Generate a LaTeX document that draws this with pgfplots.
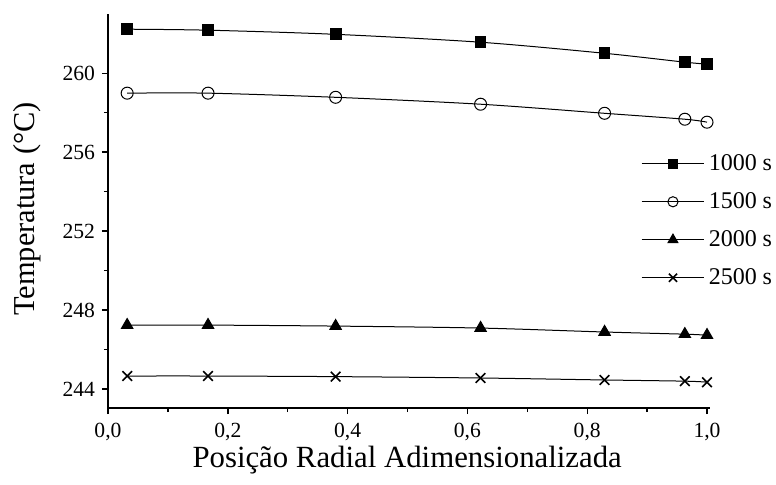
\documentclass[border=0pt]{standalone}
\usepackage{pgfplots}
\pgfplotsset{compat=1.18}
\usepackage{fontspec}
\setmainfont{Liberation Serif}
\newcommand\tl{\fontsize{10.8}{12}\selectfont}
\begin{document}
\begin{tikzpicture}
\useasboundingbox (-54pt,-38pt) rectangle (334pt,204pt);
\begin{axis}[
  at={(0,0)}, anchor=south west,
  scale only axis, width=301pt, height=197pt,
  xmin=0, xmax=1.005, ymin=243.04, ymax=263.0,
  axis lines*=left,
  axis line style={line width=0.9pt},
  tick align=outside,
  tick style={black, line width=0.7pt},
  major tick length=3pt, minor tick length=2pt,
  xtick={0,0.2,0.4,0.6,0.8,1.0},
  xticklabels={{\tl 0,0},{\tl 0,2},{\tl 0,4},{\tl 0,6},{\tl 0,8},{\tl 1,0}},
  minor x tick num=1,
  ytick={244,248,252,256,260},
  yticklabels={{\tl 244},{\tl 248},{\tl 252},{\tl 256},{\tl 260}},
  minor y tick num=1,
  xticklabel style={yshift=-1pt},
  xlabel={Posição Radial Adimensionalizada},
  ylabel={Temperatura (°C)},
  every axis x label/.style={at={(axis description cs:0.497,-0.132)}, anchor=center, font=\fontsize{15.4}{18}\selectfont},
  every axis y label/.style={at={(axis description cs:-0.1346,0.505)}, anchor=center, rotate=90, font=\fontsize{15.2}{18}\selectfont},
  legend style={at={(axis description cs:0.885,0.655)}, anchor=north west, draw=none, fill=none,
    font=\fontsize{12}{14}\selectfont, row sep=5.5pt, inner sep=0pt},
  legend cell align=left,
  legend image code/.code={\draw[mark repeat=2,mark phase=2,/tikz/every mark/.append style={scale=0.85}] plot coordinates {(0cm,0cm)(0.55cm,0cm)(1.1cm,0cm)};},
  every axis plot/.append style={black, line width=0.5pt, smooth},
]
\addplot[mark=square*, mark size=2.7pt] coordinates {
(0.032,262.23) (0.167,262.18) (0.380,261.97) (0.622,261.57) (0.829,261.01) (0.963,260.56) (1.0,260.46)};
\addlegendentry{1000 s}
\addplot[mark=o, mark size=3.0pt, mark options={fill=white}] coordinates {
(0.032,258.99) (0.167,258.99) (0.380,258.78) (0.622,258.43) (0.829,257.97) (0.963,257.67) (1.0,257.52)};
\addlegendentry{1500 s}
\addplot[mark=triangle*, mark size=3.3pt] coordinates {
(0.032,247.24) (0.167,247.24) (0.380,247.19) (0.622,247.09) (0.829,246.89) (0.963,246.78) (1.0,246.73)};
\addlegendentry{2000 s}
\addplot[mark=x, mark size=3.4pt, mark options={line width=0.8pt}] coordinates {
(0.032,244.66) (0.167,244.66) (0.380,244.63) (0.622,244.56) (0.829,244.46) (0.963,244.40) (1.0,244.35)};
\addlegendentry{2500 s}
\end{axis}
\end{tikzpicture}
\end{document}
